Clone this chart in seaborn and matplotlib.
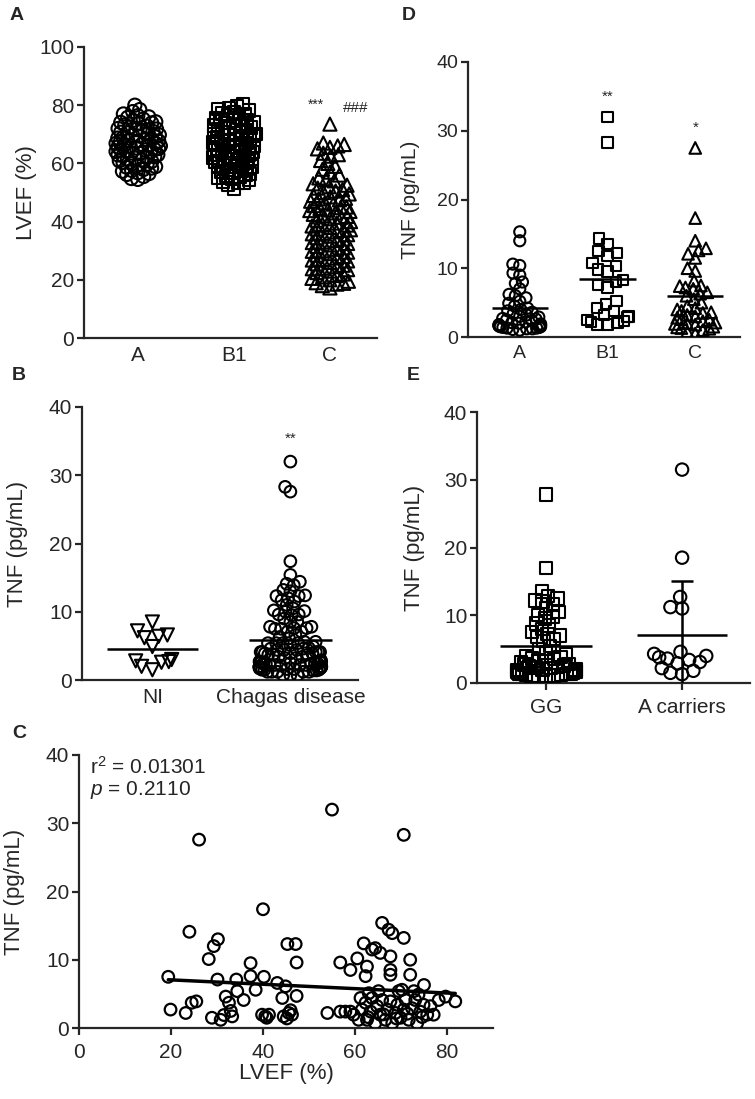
import numpy as np
import seaborn as sns
import matplotlib.pyplot as plt

# ---- data ----
groups_abc = ['A', 'B1', 'C']
lvef_a = [80, 77.8, 77, 76.4, 76, 75.2, 74.8, 74.1, 73.6, 73.2, 72.5, 72, 71.6, 71, 70.5,
          70.2, 69.8, 69.1, 68.7, 68.2, 67.9, 67.3, 66.8, 66.5, 66, 65.6, 65.1, 64.8, 64.3,
          63.9, 63.4, 63, 62.6, 62.1, 61.8, 61.2, 60.7, 60.3, 59.9, 59.4, 58.9, 58.4, 57.9,
          57.3, 56.8, 56.2, 55.5, 54.5, 54.8, 66.2, 68.9, 71.3, 64.6, 62.9, 67.5,
          78.5, 75.8, 74.3, 72.8, 71.8, 70.7, 69.4, 68.4, 67.7, 66.9, 66.3, 65.9, 65.3,
          64.5, 64.1, 63.6, 62.3, 61.5, 60.9, 59.7, 58.7, 57.6, 56.5, 69.6, 73.9]
lvef_b1 = [80.5, 79, 78.6, 78.2, 77.5, 77, 76.4, 75.8, 75.1, 74.7, 74, 73.5, 73, 72.4, 71.9,
           71.3, 70.8, 70.2, 69.7, 69.1, 68.6, 68, 67.5, 67, 66.4, 65.9, 65.3, 64.8, 64.2,
           63.7, 63.1, 62.6, 62, 61.5, 60.9, 60.4, 59.8, 59.3, 58.7, 58.2, 57.6, 57.1, 56.5,
           56, 55.4, 54.9, 54.3, 53.8, 53.2, 52.5, 51.3, 66.1, 68.3, 70.5, 72.7, 63.5, 61.2,
           59, 74.9, 56.8, 79.6, 77.2, 75.4, 73.8, 72.1, 70, 68.9, 67.2, 66.7, 65.6, 64.5,
           63.9, 62.3, 61.7, 60.1, 58.9, 57.9, 55.7, 54.6, 53.5, 71.1, 69.4, 65, 62.8, 60.7]
lvef_c = [73.5, 67, 66, 65.5, 65, 63.5, 62.5, 61, 60, 58, 56, 55, 54, 53, 52.5, 52, 51, 50,
          49.5, 49, 48, 47.5, 47, 46, 45.5, 45, 44, 43.5, 43, 42, 41.5, 41, 40, 39.5, 39, 38,
          37.5, 37, 36, 35.5, 35, 34, 33.5, 33, 32, 31.5, 31, 30, 29.5, 29, 28, 27.5, 27, 26,
          25.5, 25, 24, 23.5, 23, 22, 21.5, 21, 20, 19.5, 19, 18.5, 18, 17.2, 44.5, 38.5,
          32.5, 26.5, 66.5, 63, 59, 57, 54.5, 51.5, 48.5, 46.5, 44.8, 42.5, 40.5, 38.8, 36.5,
          34.5, 32.8, 30.5, 28.5, 26.8, 24.5, 22.5, 20.5, 18.8, 47.8, 41.8, 35.8, 29.8, 23.8,
          50.5, 43.8, 37.2]

tnf_d_a = [15.3, 14.0, 10.6, 10.4, 9.3, 9.0, 8.0, 7.8, 7.0, 6.2, 6.0, 5.7, 5.2, 4.9, 4.5,
           4.2, 4.0, 3.8, 3.6, 3.4, 3.2, 3.0, 2.9, 2.7, 2.6, 2.5, 2.4, 2.2, 2.1, 2.0, 1.9,
           1.8, 1.8, 1.7, 1.6, 1.6, 1.5, 1.5, 1.4, 1.4, 1.3, 1.3, 1.2, 1.2, 1.1, 1.0]
tnf_d_b1 = [32.0, 28.3, 14.3, 13.5, 12.5, 12.2, 11.8, 10.8, 10.3, 9.8, 9.5, 8.3, 8.0, 7.6,
            7.2, 5.2, 4.8, 4.2, 3.8, 3.2, 3.0, 2.5, 2.2, 2.0, 1.8, 1.8, 2.3, 2.9]
tnf_d_c = [27.5, 17.3, 14.0, 12.9, 12.6, 12.1, 11.5, 10.0, 9.6, 8.2, 7.5, 7.4, 7.2, 7.0,
           6.5, 6.3, 6.0, 5.5, 5.0, 4.5, 4.2, 4.0, 3.8, 3.5, 3.2, 3.0, 2.8, 2.5, 2.3, 2.0,
           1.8, 1.5, 1.3, 1.0, 0.8, 0.5, 3.6, 2.6, 1.9, 1.4, 1.2, 2.1]

groups_b = ['NI', 'Chagas disease']
tnf_ni = [8.5, 7.2, 6.6, 6.4, 6.2, 4.9, 3.0, 2.8, 2.7, 2.6, 2.0, 1.5]

# panel C pairs (LVEF, TNF) of the Chagas patients
lvef_chagas = [26.1, 55.0, 70.6, 40.0, 24.0, 30.2, 29.3, 28.2, 45.3, 47.1, 47.3, 19.4, 19.9,
               23.2, 24.5, 25.5, 28.9, 30.1, 30.8, 31.9, 32.6, 33.3, 34.2, 34.4, 35.8, 37.3,
               37.3, 38.4, 40.2, 39.8, 40.5, 41.3, 43.1, 44.9, 44.2, 44.5, 45.6, 46.3, 47.3,
               54.0, 56.8, 59.0, 56.8, 57.9, 59.0, 60.5, 61.9, 62.3, 62.6, 63.7, 64.4, 65.5,
               65.9, 67.3, 68.1, 67.7, 67.7, 67.7, 70.6, 72.0, 72.0, 70.2, 75.0, 72.8, 81.8,
               79.7, 59.7, 60.8, 61.5, 62.3, 62.6, 63.4, 63.7, 64.4, 64.8, 65.5, 65.9, 66.6,
               67.0, 67.7, 68.1, 68.8, 69.2, 69.9, 70.6, 71.0, 71.7, 72.4, 73.1, 73.5, 74.2,
               74.9, 75.7, 76.4, 77.1, 61.2, 63.0, 65.1, 69.5, 73.8, 78.2,
               40.8, 45.2, 46.0, 33.0, 31.5, 62.8, 66.2, 69.0, 71.4, 74.6]
tnf_chagas = [27.6, 32.0, 28.3, 17.4, 14.1, 13.0, 12.0, 10.1, 12.3, 12.3, 9.6, 7.5, 2.7, 2.2,
              3.7, 3.9, 1.5, 7.1, 1.2, 4.6, 3.7, 1.7, 7.1, 5.4, 4.1, 9.5, 7.6, 5.6, 7.5, 1.95,
              1.7, 1.95, 6.6, 6.1, 4.4, 1.7, 2.2, 1.95, 4.7, 2.2, 9.6, 8.5, 2.4, 2.4, 2.4, 10.2,
              12.4, 7.6, 9.0, 11.5, 11.7, 11.0, 15.4, 14.4, 13.9, 10.5, 8.5, 7.8, 13.2, 10.0,
              7.8, 5.6, 6.3, 5.4, 3.9, 4.6, 1.95, 1.2, 2.7, 3.7, 1.2, 2.4, 4.4, 0.7, 3.2, 1.95,
              4.1, 1.2, 2.7, 3.9, 0.7, 2.2, 3.4, 1.5, 2.7, 4.1, 1.2, 2.9, 4.1, 0.7, 2.4, 3.4,
              1.95, 3.2, 1.95, 4.4, 5.1, 5.4, 5.4, 4.9, 4.1,
              1.5, 1.4, 2.6, 2.5, 1.9, 1.6, 2.0, 1.4, 2.1, 1.6]
r2_text = 'r$^2$ = 0.01301'
p_text = '$p$ = 0.2110'

groups_e = ['GG', 'A carriers']
tnf_gg = [27.8, 17.0, 13.5, 12.8, 12.5, 12.2, 12.0, 11.6, 11.0, 10.5, 10.0, 9.8, 9.5, 8.8,
          8.5, 8.0, 7.5, 7.2, 7.0, 6.8, 6.5, 6.2, 5.5, 5.0, 4.5, 4.2, 3.8, 3.5, 3.2, 3.0,
          2.8, 2.6, 2.5, 2.3, 2.2, 2.0, 2.0, 1.9, 1.8, 1.8, 1.7, 1.6, 1.6, 1.5, 1.5, 1.4,
          1.4, 1.3, 1.3, 1.2, 1.2, 1.1, 1.1, 1.0, 1.0, 2.4, 2.7, 3.3, 3.6, 4.0]
tnf_acarr = [31.5, 18.5, 12.7, 11.2, 11.0, 4.6, 4.3, 4.0, 3.8, 3.6, 3.4, 3.1, 2.9, 2.2,
             1.8, 1.5, 1.3]

# ---- style ----
sns.set_style('ticks')
plt.rcParams['font.family'] = ['Liberation Sans', 'DejaVu Sans']
plt.rcParams['mathtext.fontset'] = 'custom'
plt.rcParams['mathtext.rm'] = 'Liberation Sans'
plt.rcParams['mathtext.it'] = 'Liberation Sans:italic'
plt.rcParams['axes.linewidth'] = 1.6
plt.rcParams['xtick.major.width'] = 1.6
plt.rcParams['ytick.major.width'] = 1.6
plt.rcParams['xtick.major.size'] = 5
plt.rcParams['ytick.major.size'] = 5

W, H = 755, 1099
fig = plt.figure(figsize=(W / 100, H / 100), dpi=100)


def box(left, top, right, bottom):
    return fig.add_axes([left / W, 1 - bottom / H, (right - left) / W, (bottom - top) / H])


swarms = []


def swarm(ax, cat, vals, order, marker, layout, s, half):
    # lay the swarm out with small markers, draw bigger ones later (GraphPad look)
    n_before = len(ax.collections)
    sns.swarmplot(x=[cat] * len(vals), y=vals, order=order, ax=ax, marker=marker,
                  size=layout, color='k', linewidth=1.5, edgecolor='k', warn_thresh=1)
    for coll in ax.collections[n_before:]:
        if len(coll.get_offsets()) > 0:
            swarms.append((coll, s, half, order.index(cat)))


def mean_line(ax, pos, vals, hw):
    ax.hlines(np.mean(vals), pos - hw, pos + hw, color='k', lw=1.8, zorder=5)


def finish(ax, ylim, step, xlim, ylab, ylab_x, fs=15, xticks=False):
    ax.set_ylim(*ylim)
    ax.set_yticks(np.arange(ylim[0], ylim[1] + 1, step))
    ax.set_xlim(*xlim)
    ax.set_ylabel(ylab, fontsize=fs + 1)
    ax.yaxis.set_label_coords(ylab_x, 0.5)
    ax.set_xlabel('')
    ax.tick_params(axis='y', labelsize=fs, pad=2)
    ax.tick_params(axis='x', labelsize=fs, length=5 if xticks else 0, pad=6)
    sns.despine(ax=ax)


# ---- A ----
axA = box(84, 47, 377, 338)
swarm(axA, 'A', lvef_a, groups_abc, 'o', 3.1, 90, 0.27)
swarm(axA, 'B1', lvef_b1, groups_abc, 's', 3.3, 80, 0.27)
swarm(axA, 'C', lvef_c, groups_abc, '^', 4.1, 90, 0.27)
finish(axA, (0, 100), 20, (-0.56, 2.49), 'LVEF (%)', -0.16)
axA.text(1.85, 80, '***', ha='center', va='center', fontsize=10)
axA.text(2.27, 79, '###', ha='center', va='center', fontsize=11)

# ---- D ----
axD = box(468, 62, 740, 337)
swarm(axD, 'A', tnf_d_a, groups_abc, 'o', 3.5, 64, 0.26)
swarm(axD, 'B1', tnf_d_b1, groups_abc, 's', 5.8, 56, 0.26)
swarm(axD, 'C', tnf_d_c, groups_abc, '^', 4.4, 70, 0.26)
for i, vals in enumerate([tnf_d_a, tnf_d_b1, tnf_d_c]):
    mean_line(axD, i, vals, 0.32)
finish(axD, (0, 40), 10, (-0.59, 2.51), 'TNF (pg/mL)', -0.176, fs=14)
axD.text(1, 34.9, '**', ha='center', va='center', fontsize=11)
axD.text(2, 30.4, '*', ha='center', va='center', fontsize=11)

# ---- B ----
axB = box(82, 407, 358, 680)
swarm(axB, 'NI', tnf_ni, groups_b, 'v', 7.1, 90, 0.15)
swarm(axB, 'Chagas disease', tnf_chagas, groups_b, 'o', 3.5, 70, 0.24)
mean_line(axB, 0, tnf_ni, 0.33)
mean_line(axB, 1, tnf_chagas, 0.30)
finish(axB, (0, 40), 10, (-0.51, 1.49), 'TNF (pg/mL)', -0.196)
axB.text(1, 35.3, '**', ha='center', va='center', fontsize=11)

# ---- E ----
axE = box(477, 412, 750, 683)
swarm(axE, 'GG', tnf_gg, groups_e, 's', 4.0, 80, 0.23)
swarm(axE, 'A carriers', tnf_acarr, groups_e, 'o', 6.9, 80, 0.25)
mean_line(axE, 0, tnf_gg, 0.34)
mean_line(axE, 1, tnf_acarr, 0.33)
m, sd = np.mean(tnf_acarr), np.std(tnf_acarr, ddof=1)
axE.errorbar(1, m, yerr=sd, color='k', lw=1.8, capsize=8, capthick=1.8, zorder=5)
finish(axE, (0, 40), 10, (-0.51, 1.5), 'TNF (pg/mL)', -0.19, xticks=True)

# ---- C ----
axC = box(79, 755, 493, 1028)
sns.scatterplot(x=lvef_chagas, y=tnf_chagas, ax=axC, marker='o', s=70,
                facecolor='none', edgecolor='k', linewidth=1.6, zorder=3)
sns.regplot(x=lvef_chagas, y=tnf_chagas, ax=axC, scatter=False, ci=None,
            color='k', line_kws=dict(lw=2.5))
finish(axC, (0, 40), 10, (0, 90), 'TNF (pg/mL)', -0.13, xticks=True)
axC.set_xticks([0, 20, 40, 60, 80])
axC.set_xlabel('LVEF (%)', fontsize=16)
axC.xaxis.set_label_coords(0.5, -0.128)
axC.text(2.4, 38.2, r2_text, va='center', fontsize=15)
axC.text(2.4, 34.8, p_text, va='center', fontsize=15)

# panel letters
for x, y, t in [(10, 15, 'A'), (402, 15, 'D'), (12, 375, 'B'), (407, 375, 'E'), (12, 733, 'C')]:
    fig.text(x / W, 1 - y / H, t, fontsize=14, fontweight='bold', va='center')

# compute the swarm positions, squeeze them into a narrow column,
# then swap in the larger hollow markers
fig.canvas.draw()
for coll, s, half, pos in swarms:
    if 'draw' in coll.__dict__:
        del coll.draw
    xy = np.array(coll.get_offsets())
    xy[:, 0] = pos + half * np.tanh((xy[:, 0] - pos) / half)
    coll.set_offsets(xy)
    coll.set_sizes([s])
    coll.set_facecolor('none')
    coll.set_edgecolor('k')
    coll.set_linewidth(1.5)

fig.savefig('out.png', dpi=100)
